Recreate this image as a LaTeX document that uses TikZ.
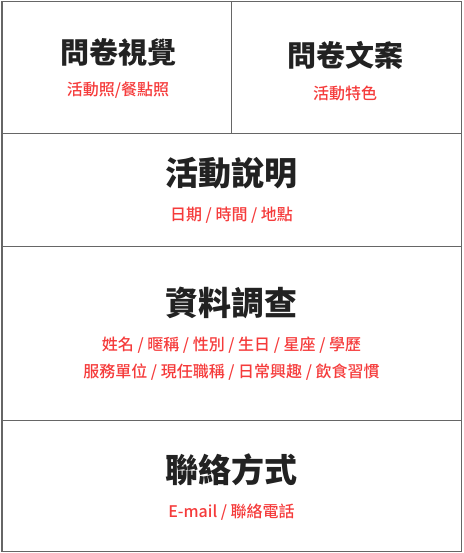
\documentclass[tikz,border=0pt]{standalone}
\usepackage{fontspec}
\setmainfont{Noto Sans CJK TC}
\newfontfamily\subfont{Noto Sans CJK TC Medium}
\definecolor{frame}{HTML}{666666}
\definecolor{head}{HTML}{222222}
\definecolor{sub}{HTML}{F53B3B}
\begin{document}
\begin{tikzpicture}[x=1pt,y=-1pt,
  grid/.style={draw=frame,line width=1.2pt},
  headbig/.style={text=head,font=\fontsize{33}{38}\selectfont\bfseries,inner sep=0pt},
  headsmall/.style={text=head,font=\fontsize{29}{34}\selectfont\bfseries,inner sep=0pt},
  subtxt/.style={text=sub,font=\subfont\fontsize{16}{20}\selectfont,inner sep=0pt,align=center}]
\useasboundingbox (0,0) rectangle (463,553);
\coordinate (tl) at (2,1.5);
\coordinate (br) at (461.5,551.5);
\draw[grid] (tl) rectangle (br);
\coordinate (v1) at (231.5,1.5);
\coordinate (v2) at (231.5,133.3);
\coordinate (h1l) at (2,133.3);
\coordinate (h1r) at (461.5,133.3);
\coordinate (h2l) at (2,246.3);
\coordinate (h2r) at (461.5,246.3);
\coordinate (h3l) at (2,420.5);
\coordinate (h3r) at (461.5,420.5);
\draw[grid] (v1) -- (v2);
\draw[grid] (h1l) -- (h1r);
\draw[grid] (h2l) -- (h2r);
\draw[grid] (h3l) -- (h3r);

\node[headsmall] (a) at (118,52) {問卷視覺};
\node[subtxt] (as) at (118,90) {活動照/餐點照};
\node[headsmall] (b) at (345,55) {問卷文案};
\node[subtxt] (bs) at (345,93) {活動特色};
\node[headbig] (c) at (231.5,173) {活動說明};
\node[subtxt] (cs) at (231.5,215) {日期 / 時間 / 地點};
\node[headbig] (d) at (231.5,303) {資料調查};
\node[subtxt] (ds1) at (231.5,345) {姓名 / 暱稱 / 性別 / 生日 / 星座 / 學歷};
\node[subtxt] (ds2) at (231.5,372) {服務單位 / 現任職稱 / 日常興趣 / 飲食習慣};
\node[headbig] (e) at (231.5,470) {聯絡方式};
\node[subtxt] (es) at (231.5,512) {E-mail / 聯絡電話};
\end{tikzpicture}
\end{document}
